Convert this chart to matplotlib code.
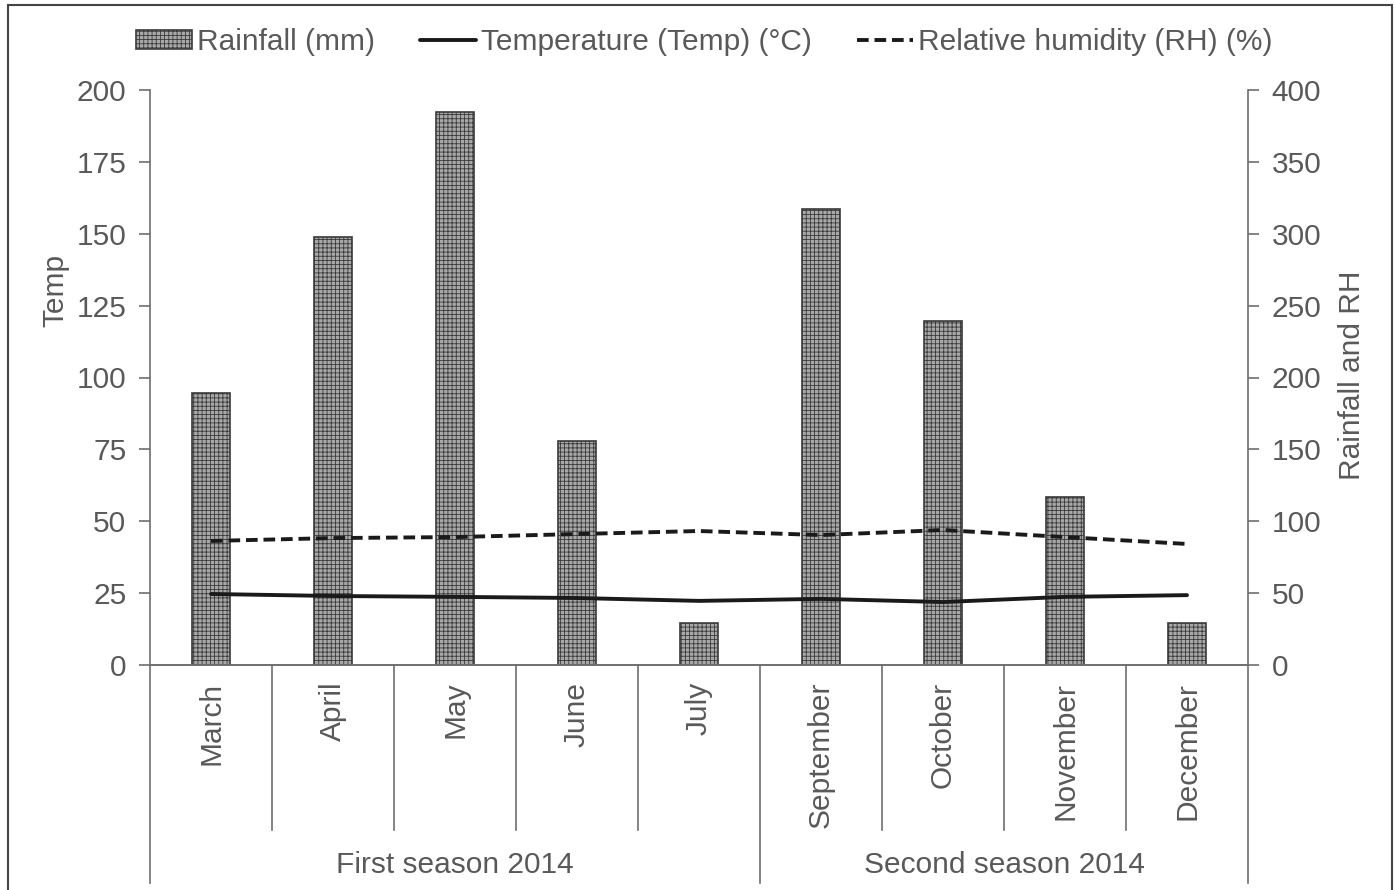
import matplotlib
matplotlib.use("Agg")
import matplotlib.pyplot as plt
import matplotlib.transforms as mtransforms
from matplotlib.patches import Rectangle
import numpy as np

months = ["March", "April", "May", "June", "July",
          "September", "October", "November", "December"]
seasons = ["First season 2014", "Second season 2014"]
season_sizes = [5, 4]
rainfall = [189, 298, 385, 156, 29, 317, 239, 117, 29]
temp = [24.7, 24.0, 23.7, 23.3, 22.3, 23.0, 21.9, 23.7, 24.3]
rh = [86.3, 88.3, 89.0, 91.1, 93.2, 90.4, 93.9, 89.0, 84.2]

plt.rcParams['font.family'] = ['Liberation Sans', 'DejaVu Sans']
plt.rcParams['hatch.linewidth'] = 0.6
TXT = '#595959'
SP = '#6e6e6e'
FS = 21.5

fig = plt.figure(figsize=(13.94, 8.90), dpi=100)
ax = fig.add_axes([150/1394, 1-665/890, 1098/1394, 575/890])
ax2 = ax.twinx()

x = np.arange(len(months))
bars = ax2.bar(x, rainfall, width=0.31, color='#a8a8a8', edgecolor='#3a3a3a',
               linewidth=1.2, label='Rainfall (mm)', zorder=2)
for b in bars:
    b.set_hatch('++++')
l_temp, = ax.plot(x, temp, color='#1a1a1a', lw=2.8, label='Temperature (Temp) (°C)',
                  solid_capstyle='round', zorder=5)
l_rh, = ax2.plot(x, rh, color='#1a1a1a', lw=2.8, ls=(0, (3, 1.5)),
                 label='Relative humidity (RH) (%)', zorder=5)
ax.set_zorder(ax2.get_zorder() + 1)
ax.patch.set_visible(False)

ax.set_xlim(-0.5, len(months) - 0.5)
ax.set_ylim(0, 200)
ax2.set_ylim(0, 400)
ax.set_yticks(np.arange(0, 201, 25))
ax2.set_yticks(np.arange(0, 401, 50))

for a in (ax, ax2):
    a.spines['top'].set_visible(False)
    for s in a.spines.values():
        s.set_color(SP)
        s.set_linewidth(1.2)
    a.tick_params(axis='y', colors=SP, labelcolor=TXT, labelsize=FS, length=8, width=1.2, pad=9)
ax.spines['right'].set_visible(False)
ax2.spines['left'].set_visible(False)

ax.set_xticks(x)
ax.set_xticklabels(months, rotation=90, fontsize=FS, color=TXT, va='top')
ax.tick_params(axis='x', length=0, pad=12)

ax.set_ylabel('Temp', fontsize=FS, color=TXT)
ax.yaxis.set_label_coords(-0.073, 0.652)
ax2.set_ylabel('Rainfall and RH', fontsize=FS, color=TXT)
ax2.yaxis.set_label_coords(1.082, 0.504)

trans = mtransforms.blended_transform_factory(ax.transData, ax.transAxes)
bounds = np.concatenate([[0], np.cumsum(season_sizes)]) - 0.5
long_pos = set(bounds.tolist())
for b in np.arange(-0.5, len(months), 1.0):
    ybot = -0.379 if b in long_pos else -0.287
    ax.plot([b, b], [0, ybot], transform=trans, color=SP, lw=1.2, clip_on=False)
for i, name in enumerate(seasons):
    c = (bounds[i] + bounds[i + 1]) / 2
    ax.text(c, -0.348, name, transform=trans, ha='center', va='center',
            fontsize=FS, color=TXT)

fig.legend(handles=[bars, l_temp, l_rh], loc='center', bbox_to_anchor=(0.505, 1-42/890),
           ncol=3, frameon=False, fontsize=FS, labelcolor=TXT, handlelength=1.9,
           handletextpad=0.15, columnspacing=1.5, handleheight=0.6)

fig.add_artist(Rectangle((8/1394, -0.05), (1392-8)/1394, 1.05 - 5/890,
                         transform=fig.transFigure, fill=False, edgecolor='#444444', lw=1.5))

fig.savefig('out.png', dpi=100)
